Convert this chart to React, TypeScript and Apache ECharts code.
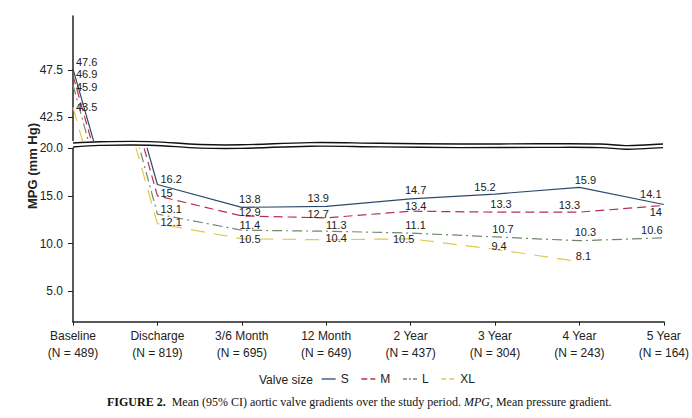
import React, { useEffect, useRef } from 'react';
import * as echarts from 'echarts';

const categories = [
  'Baseline\n(N = 489)',
  'Discharge\n(N = 819)',
  '3/6 Month\n(N = 695)',
  '12 Month\n(N = 649)',
  '2 Year\n(N = 437)',
  '3 Year\n(N = 304)',
  '4 Year\n(N = 243)',
  '5 Year\n(N = 164)',
];
const sizeNames = ['S', 'M', 'L', 'XL'];
const valuesS = [47.6, 16.2, 13.8, 13.9, 14.7, 15.2, 15.9, 14.1];
const valuesM = [46.9, 15, 12.9, 12.7, 13.4, 13.3, 13.3, 14];
const valuesL = [45.9, 13.1, 11.4, 11.3, 11.1, 10.7, 10.3, 10.6];
const valuesXL = [43.5, 12.1, 10.5, 10.4, 10.5, 9.4, 8.1, null];
const upperTicks = [42.5, 47.5];
const lowerTicks = [5, 10, 15, 20];

// label nudges (styling only)
const labelNudge: Record<string, number[][]> = {
  S: [[0, -7], [0, -6], [8, -8], [-8, -8], [5, -9], [-10, -7], [6, -7], [-13, -11]],
  M: [[0, -1], [0, -3], [8, -4], [-8, -4], [5, -5], [6, -8], [-10, -7], [-8, 7]],
  L: [[0, 2], [0, -5], [8, -5], [10, -6], [5, -8], [8, -8], [6, -9], [-12, -8]],
  XL: [[0, 0], [0, -2], [8, 0], [10, -2], [-7, 0], [4, -3], [4, -6], [0, 0]],
};

const styles: Record<string, { color: string; type: any; legendType: any }> = {
  S: { color: '#2d4a6c', type: 'solid', legendType: 'solid' },
  M: { color: '#b8304f', type: [9, 5], legendType: [6, 3] },
  L: { color: '#6f8a68', type: [10, 4, 2, 4], legendType: [4, 2, 2, 2] },
  XL: { color: '#e0c94e', type: [14, 9], legendType: [5, 3] },
};

const FONT = 'Liberation Sans, Arial, sans-serif';
const SERIF = 'Liberation Serif, Times New Roman, serif';

export default function App() {
  const ref = useRef<HTMLDivElement>(null);
  useEffect(() => {
    if (!ref.current) return;
    const chart = echarts.init(ref.current, null, { renderer: 'svg' });
    const valueSets: Record<string, (number | null)[]> = { S: valuesS, M: valuesM, L: valuesL, XL: valuesXL };

    const labelFor = (name: string, i: number, show: boolean) => {
      if (!show) return { show: false };
      const [dx, dy] = labelNudge[name][i];
      if (i <= 1) {
        return { show: true, position: 'right', distance: 2, offset: [dx, dy] };
      }
      return { show: true, position: 'inside', offset: [dx, dy] };
    };

    const series: any[] = [];
    sizeNames.forEach((name) => {
      const vals = valueSets[name];
      const st = styles[name];
      [0, 1].forEach((panel) => {
        series.push({
          type: 'line',
          name,
          xAxisIndex: panel,
          yAxisIndex: panel,
          symbol: 'circle',
          symbolSize: 2,
          color: st.color,
          itemStyle: { color: 'rgba(0,0,0,0)' },
          lineStyle: { color: st.color, width: 1.2, type: st.type },
          clip: true,
          label: { color: '#222', fontSize: 11, fontFamily: FONT },
          emphasis: { disabled: true },
          data: vals.map((v, i) => ({
            value: v,
            label: labelFor(name, i, panel === 0 ? i === 0 : i >= 1),
          })),
        });
      });
    });

    const upperWave = [
      [73, 143], [100, 141.8], [150, 141.6], [200, 144.5], [240, 144.8], [310, 142.6], [380, 143.3],
      [460, 144], [540, 143.8], [600, 144], [625, 145.6], [645, 145], [663, 144],
    ];
    const lowerWave = upperWave.map(([x, y], i) => [x, y + (i === 0 ? 4 : 3.6)]);

    chart.setOption({
      animation: false,
      backgroundColor: '#fff',
      grid: [
        { left: 73, right: 27, top: 16, height: 124.5 },
        { left: 73, right: 27, top: 148.3, height: 173.4 },
      ],
      xAxis: [
        { type: 'category', gridIndex: 0, data: categories, boundaryGap: false, show: false },
        {
          type: 'category',
          gridIndex: 1,
          data: categories,
          boundaryGap: false,
          axisLine: { lineStyle: { color: '#222', width: 1.5 } },
          axisTick: { alignWithLabel: true, length: 4, lineStyle: { color: '#222' } },
          axisLabel: { color: '#222', fontSize: 12, fontFamily: FONT, margin: 6, lineHeight: 17, interval: 0 },
          splitLine: { show: false },
        },
      ],
      yAxis: [
        {
          type: 'value',
          gridIndex: 0,
          min: 40,
          max: 53.2,
          axisLine: { show: true, lineStyle: { color: '#222', width: 1.5 } },
          axisTick: { show: true, length: 5, customValues: upperTicks, lineStyle: { color: '#222' } },
          axisLabel: {
            customValues: upperTicks,
            formatter: (v: number) => v.toFixed(1),
            color: '#222', fontSize: 12, fontFamily: FONT, margin: 10,
          },
          splitLine: { show: false },
        },
        {
          type: 'value',
          gridIndex: 1,
          min: 1.8,
          max: 20,
          axisLine: { show: true, lineStyle: { color: '#222', width: 1.5 } },
          axisTick: { show: true, length: 5, customValues: lowerTicks, lineStyle: { color: '#222' } },
          axisLabel: {
            customValues: lowerTicks,
            formatter: (v: number) => v.toFixed(1),
            color: '#222', fontSize: 12, fontFamily: FONT, margin: 10,
          },
          splitLine: { show: false },
        },
      ],
      legend: {
        data: sizeNames.map((n) => ({
          name: n,
          lineStyle: { color: styles[n].color, width: 1.3, type: styles[n].legendType },
        })),
        left: 321,
        top: 373,
        padding: 0,
        itemWidth: 14,
        itemHeight: 8,
        itemGap: 12,
        textStyle: { color: '#222', fontSize: 12, fontFamily: FONT },
      },
      graphic: [
        {
          type: 'polyline',
          shape: { points: upperWave, smooth: 0.4 },
          style: { stroke: '#111', lineWidth: 1.4, fill: 'none' },
          z: 10,
        },
        {
          type: 'polyline',
          shape: { points: lowerWave, smooth: 0.4 },
          style: { stroke: '#111', lineWidth: 1.4, fill: 'none' },
          z: 10,
        },
        {
          type: 'text',
          x: 32,
          y: 166,
          rotation: Math.PI / 2,
          style: {
            text: 'MPG (mm Hg)',
            font: `bold 13px ${FONT}`,
            fill: '#222',
            align: 'center',
            verticalAlign: 'middle',
            textAlign: 'center',
            textVerticalAlign: 'middle',
          },
        },
        {
          type: 'text',
          x: 259,
          y: 380,
          style: {
            text: 'Valve size',
            font: `12px ${FONT}`,
            fill: '#222',
            verticalAlign: 'middle',
            textVerticalAlign: 'middle',
          },
        },
        {
          type: 'text',
          x: 107,
          y: 402,
          style: {
            text: '{b|FIGURE 2.}  Mean (95% CI) aortic valve gradients over the study period. {i|MPG}, Mean pressure gradient.',
            fontFamily: SERIF,
            fontSize: 12,
            fill: '#111',
            verticalAlign: 'middle',
            textVerticalAlign: 'middle',
            rich: {
              b: { fontWeight: 'bold', fontFamily: SERIF, fontSize: 12, fill: '#111' },
              i: { fontStyle: 'italic', fontFamily: SERIF, fontSize: 12, fill: '#111' },
            },
          },
        },
      ],
      series,
    });
    return () => chart.dispose();
  }, []);
  return (
    <div
      ref={ref}
      style={{ position: 'fixed', left: 0, top: 0, width: 692, height: 418, background: '#fff' }}
    />
  );
}
